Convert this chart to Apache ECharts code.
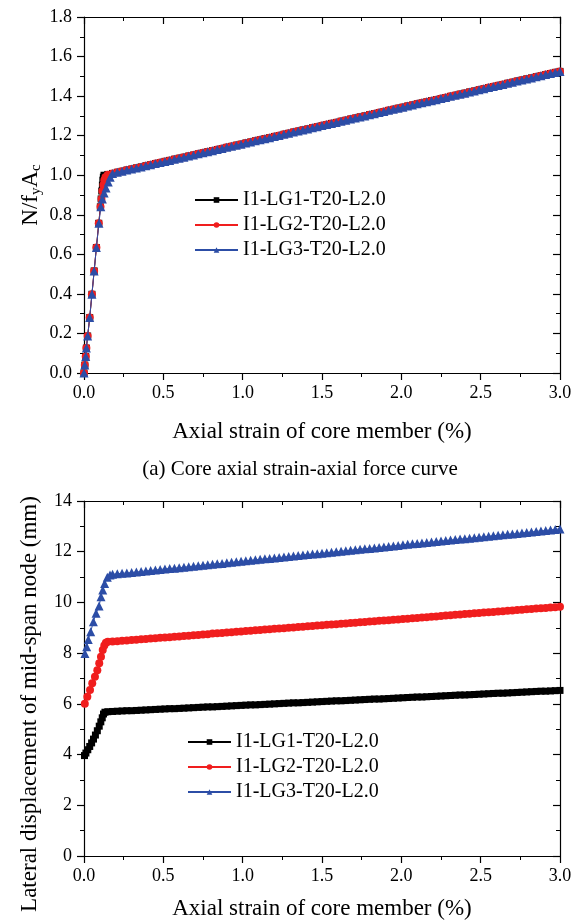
<!DOCTYPE html>
<html>
<head>
<meta charset="utf-8">
<script src="https://cdn.jsdelivr.net/npm/echarts@6/dist/echarts.min.js"></script>
<style>
  html, body { margin: 0; padding: 0; background: #fff; }
  #main { width: 578px; height: 924px; }
</style>
</head>
<body>
<div id="main"></div>
<script>
// Specimen names shared by both panels
const seriesNames = ['I1-LG1-T20-L2.0', 'I1-LG2-T20-L2.0', 'I1-LG3-T20-L2.0'];

// Strain (%) of the recorded post-yield steps, common to every specimen
const strainPost = [
  0.18, 0.21, 0.24, 0.27, 0.30, 0.33, 0.36, 0.39, 0.42, 0.45,
  0.48, 0.51, 0.54, 0.57, 0.60, 0.63, 0.66, 0.69, 0.72, 0.75,
  0.78, 0.81, 0.84, 0.87, 0.90, 0.93, 0.96, 0.99, 1.02, 1.05,
  1.08, 1.11, 1.14, 1.17, 1.20, 1.23, 1.26, 1.29, 1.32, 1.35,
  1.38, 1.41, 1.44, 1.47, 1.50, 1.53, 1.56, 1.59, 1.62, 1.65,
  1.68, 1.71, 1.74, 1.77, 1.80, 1.83, 1.86, 1.89, 1.92, 1.95,
  1.98, 2.01, 2.04, 2.07, 2.10, 2.13, 2.16, 2.19, 2.22, 2.25,
  2.28, 2.31, 2.34, 2.37, 2.40, 2.43, 2.46, 2.49, 2.52, 2.55,
  2.58, 2.61, 2.64, 2.67, 2.70, 2.73, 2.76, 2.79, 2.82, 2.85,
  2.88, 2.91, 2.94, 2.97, 3.00
];

// ---- Panel (a): normalised axial force N/(fy*Ac) ----
const lg1StrainPreA = [0, 0.005, 0.011, 0.015, 0.023, 0.036, 0.050, 0.064, 0.078, 0.093, 0.103, 0.108, 0.112, 0.116, 0.119, 0.122, 0.126, 0.150];
const lg1ForcePreA  = [0, 0.040, 0.083, 0.126, 0.187, 0.280, 0.398, 0.516, 0.634, 0.757, 0.840, 0.880, 0.920, 0.950, 0.975, 0.990, 1.000, 1.004];
const lg2StrainPreA = [0, 0.005, 0.011, 0.015, 0.023, 0.036, 0.050, 0.064, 0.078, 0.093, 0.104, 0.110, 0.116, 0.122, 0.128, 0.135, 0.150];
const lg2ForcePreA  = [0, 0.040, 0.083, 0.126, 0.187, 0.280, 0.398, 0.516, 0.634, 0.757, 0.840, 0.880, 0.920, 0.950, 0.975, 0.990, 1.002];
const lg3StrainPreA = [0, 0.005, 0.011, 0.015, 0.023, 0.036, 0.050, 0.064, 0.078, 0.094, 0.106, 0.116, 0.127, 0.139, 0.153, 0.165];
const lg3ForcePreA  = [0, 0.040, 0.083, 0.126, 0.187, 0.280, 0.398, 0.516, 0.634, 0.757, 0.840, 0.880, 0.910, 0.935, 0.966, 0.990];
// Post-yield force, identical for the three specimens
const forcePostA = [
  1.009, 1.015, 1.020, 1.026, 1.031, 1.037, 1.042, 1.048, 1.053, 1.059,
  1.064, 1.070, 1.075, 1.081, 1.086, 1.091, 1.097, 1.102, 1.108, 1.113,
  1.119, 1.124, 1.130, 1.135, 1.141, 1.146, 1.152, 1.157, 1.163, 1.168,
  1.174, 1.179, 1.185, 1.190, 1.196, 1.201, 1.207, 1.212, 1.218, 1.223,
  1.229, 1.234, 1.240, 1.245, 1.251, 1.256, 1.262, 1.267, 1.273, 1.278,
  1.284, 1.289, 1.295, 1.300, 1.306, 1.311, 1.317, 1.322, 1.328, 1.333,
  1.339, 1.344, 1.350, 1.355, 1.361, 1.366, 1.371, 1.377, 1.382, 1.388,
  1.393, 1.399, 1.404, 1.410, 1.415, 1.421, 1.426, 1.432, 1.437, 1.443,
  1.448, 1.454, 1.459, 1.465, 1.470, 1.476, 1.481, 1.487, 1.492, 1.498,
  1.503, 1.509, 1.514, 1.520, 1.525
];

// ---- Panel (b): lateral displacement of the mid-span node (mm) ----
const lg1StrainPreB = [0.003, 0.012, 0.024, 0.036, 0.048, 0.060, 0.072, 0.084, 0.096, 0.106, 0.115, 0.123, 0.132, 0.150];
const lg1DispPreB   = [3.96, 4.06, 4.19, 4.32, 4.46, 4.61, 4.77, 4.94, 5.12, 5.29, 5.45, 5.60, 5.67, 5.69];
const lg2StrainPreB = [0.005, 0.021, 0.038, 0.052, 0.069, 0.084, 0.096, 0.107, 0.118, 0.128, 0.138, 0.150];
const lg2DispPreB   = [6.00, 6.28, 6.55, 6.81, 7.07, 7.33, 7.60, 7.86, 8.12, 8.30, 8.41, 8.45];
const lg3StrainPreB = [0.006, 0.017, 0.027, 0.042, 0.059, 0.076, 0.095, 0.107, 0.118, 0.130, 0.147, 0.164];
const lg3DispPreB   = [7.99, 8.25, 8.54, 8.84, 9.24, 9.57, 9.86, 10.22, 10.49, 10.75, 10.99, 11.08];

const lg1DispPostB = [
  5.70, 5.71, 5.72, 5.73, 5.73, 5.74, 5.75, 5.76, 5.77, 5.78,
  5.79, 5.80, 5.81, 5.81, 5.82, 5.83, 5.84, 5.85, 5.86, 5.87,
  5.88, 5.88, 5.89, 5.90, 5.91, 5.92, 5.93, 5.94, 5.95, 5.96,
  5.96, 5.97, 5.98, 5.99, 6.00, 6.01, 6.02, 6.03, 6.04, 6.04,
  6.05, 6.06, 6.07, 6.08, 6.09, 6.10, 6.11, 6.12, 6.12, 6.13,
  6.14, 6.15, 6.16, 6.17, 6.18, 6.19, 6.19, 6.20, 6.21, 6.22,
  6.23, 6.24, 6.25, 6.26, 6.27, 6.27, 6.28, 6.29, 6.30, 6.31,
  6.32, 6.33, 6.34, 6.35, 6.35, 6.36, 6.37, 6.38, 6.39, 6.40,
  6.41, 6.42, 6.42, 6.43, 6.44, 6.45, 6.46, 6.47, 6.48, 6.49,
  6.50, 6.50, 6.51, 6.52, 6.53
];
const lg2DispPostB = [
  8.46, 8.47, 8.49, 8.50, 8.52, 8.53, 8.55, 8.56, 8.58, 8.59,
  8.61, 8.62, 8.63, 8.65, 8.66, 8.68, 8.69, 8.71, 8.72, 8.74,
  8.75, 8.77, 8.78, 8.79, 8.81, 8.82, 8.84, 8.85, 8.87, 8.88,
  8.90, 8.91, 8.93, 8.94, 8.96, 8.97, 8.98, 9.00, 9.01, 9.03,
  9.04, 9.06, 9.07, 9.09, 9.10, 9.12, 9.13, 9.14, 9.16, 9.17,
  9.19, 9.20, 9.22, 9.23, 9.25, 9.26, 9.28, 9.29, 9.30, 9.32,
  9.33, 9.35, 9.36, 9.38, 9.39, 9.41, 9.42, 9.44, 9.45, 9.46,
  9.48, 9.49, 9.51, 9.52, 9.54, 9.55, 9.57, 9.58, 9.60, 9.61,
  9.62, 9.64, 9.65, 9.67, 9.68, 9.70, 9.71, 9.73, 9.74, 9.76,
  9.77, 9.78, 9.80, 9.81, 9.83
];
const lg3DispPostB = [
  11.11, 11.13, 11.15, 11.16, 11.18, 11.20, 11.22, 11.24, 11.26, 11.28,
  11.30, 11.32, 11.34, 11.35, 11.37, 11.39, 11.41, 11.43, 11.45, 11.47,
  11.49, 11.51, 11.53, 11.54, 11.56, 11.58, 11.60, 11.62, 11.64, 11.66,
  11.68, 11.70, 11.72, 11.73, 11.75, 11.77, 11.79, 11.81, 11.83, 11.85,
  11.87, 11.89, 11.91, 11.92, 11.94, 11.96, 11.98, 12.00, 12.02, 12.04,
  12.06, 12.08, 12.10, 12.12, 12.13, 12.15, 12.17, 12.19, 12.21, 12.23,
  12.25, 12.27, 12.29, 12.31, 12.32, 12.34, 12.36, 12.38, 12.40, 12.42,
  12.44, 12.46, 12.48, 12.50, 12.51, 12.53, 12.55, 12.57, 12.59, 12.61,
  12.63, 12.65, 12.67, 12.69, 12.70, 12.72, 12.74, 12.76, 12.78, 12.80,
  12.82, 12.84, 12.86, 12.88, 12.90
];

const SERIF = '"Liberation Serif", "Times New Roman", serif';
const colors = ['#000000', '#F01E1E', '#2C4DA6'];
const symbols = ['rect', 'circle', 'triangle'];
const symbolSizes = [7, 8, 9];

function pairs(xs, ys) {
  return xs.map((x, i) => [x, ys[i]]);
}

function curve(k, axisIdx, pre, post) {
  return {
    name: seriesNames[k],
    type: 'line',
    xAxisIndex: axisIdx,
    yAxisIndex: axisIdx,
    data: pre.concat(post),
    symbol: symbols[k],
    symbolSize: symbolSizes[k],
    showSymbol: true,
    color: colors[k],
    lineStyle: { color: colors[k], width: 1 },
    itemStyle: { color: colors[k] },
    z: 2 + k
  };
}

const axisLineStyle = { color: '#000', width: 1.2 };
const minorTickStyle = { color: '#000', width: 1 };

function xAxes(gridIndex, nameGap) {
  return [
    {
      gridIndex, type: 'value', position: 'bottom', min: 0, max: 3, interval: 0.5,
      axisLine: { show: true, onZero: false, lineStyle: axisLineStyle },
      axisTick: { show: true, inside: false, length: 7, lineStyle: axisLineStyle },
      minorTick: { show: true, splitNumber: 2, length: 4, lineStyle: minorTickStyle },
      splitLine: { show: false },
      axisLabel: { color: '#000', fontFamily: SERIF, fontSize: 18, margin: 11, formatter: v => v.toFixed(1) },
      name: 'Axial strain of core member (%)',
      nameLocation: 'middle', nameGap,
      nameTextStyle: { color: '#000', fontFamily: SERIF, fontSize: 23 }
    },
    {
      gridIndex, type: 'value', position: 'top', min: 0, max: 3, interval: 0.5,
      axisLine: { show: true, onZero: false, lineStyle: axisLineStyle },
      axisTick: { show: true, inside: true, length: 7, lineStyle: axisLineStyle },
      minorTick: { show: true, splitNumber: 2, length: 4, lineStyle: minorTickStyle },
      splitLine: { show: false },
      axisLabel: { show: false }
    }
  ];
}

function yAxes(gridIndex, max, interval, digits) {
  return [
    {
      gridIndex, type: 'value', position: 'left', min: 0, max, interval,
      axisLine: { show: true, onZero: false, lineStyle: axisLineStyle },
      axisTick: { show: true, inside: false, length: 7, lineStyle: axisLineStyle },
      minorTick: { show: true, splitNumber: 2, length: 4, lineStyle: minorTickStyle },
      splitLine: { show: false },
      axisLabel: { color: '#000', fontFamily: SERIF, fontSize: 18, margin: 12, formatter: v => v.toFixed(digits) }
    },
    {
      gridIndex, type: 'value', position: 'right', min: 0, max, interval,
      axisLine: { show: true, onZero: false, lineStyle: axisLineStyle },
      axisTick: { show: true, inside: true, length: 7, lineStyle: axisLineStyle },
      minorTick: { show: true, splitNumber: 2, length: 4, lineStyle: minorTickStyle },
      splitLine: { show: false },
      axisLabel: { show: false }
    }
  ];
}

function legendAt(left, top) {
  return {
    left, top, orient: 'vertical', padding: 0,
    itemWidth: 43, itemHeight: 7, itemGap: 5,
    selectedMode: false,
    textStyle: { color: '#000', fontFamily: SERIF, fontSize: 20, lineHeight: 20 },
    data: seriesNames
  };
}

const chart = echarts.init(document.getElementById('main'), null, { renderer: 'canvas' });

chart.setOption({
  animation: false,
  backgroundColor: '#fff',
  grid: [
    { left: 84, top: 17, width: 476, height: 356 },
    { left: 84, top: 501, width: 476, height: 355 }
  ],
  xAxis: [...xAxes(0, 47), ...xAxes(1, 41)],
  yAxis: [...yAxes(0, 1.8, 0.2, 1), ...yAxes(1, 14, 2, 0)],
  legend: [legendAt(194, 190), legendAt(187, 732)],
  graphic: [
    {
      type: 'text', x: 31, y: 195, rotation: Math.PI / 2,
      style: {
        text: '{m|N/f}{s|y}{m|A}{s|c}',
        align: 'center', verticalAlign: 'middle', fill: '#000',
        rich: {
          m: { fontFamily: SERIF, fontSize: 23, lineHeight: 26, fill: '#000' },
          s: { fontFamily: SERIF, fontSize: 15, lineHeight: 10, verticalAlign: 'bottom', fill: '#000' }
        }
      }
    },
    {
      type: 'text', x: 30, y: 704, rotation: Math.PI / 2,
      style: {
        text: 'Lateral displacement of mid-span node (mm)',
        fontFamily: SERIF, fontSize: 23, fill: '#000',
        align: 'center', verticalAlign: 'middle'
      }
    },
    {
      type: 'text', x: 300, y: 469,
      style: {
        text: '(a) Core axial strain-axial force curve',
        fontFamily: SERIF, fontSize: 21, fill: '#000',
        align: 'center', verticalAlign: 'middle'
      }
    }
  ],
  series: [
    curve(0, 0, pairs(lg1StrainPreA, lg1ForcePreA), pairs(strainPost, forcePostA)),
    curve(1, 0, pairs(lg2StrainPreA, lg2ForcePreA), pairs(strainPost, forcePostA)),
    curve(2, 0, pairs(lg3StrainPreA, lg3ForcePreA), pairs(strainPost, forcePostA)),
    curve(0, 2, pairs(lg1StrainPreB, lg1DispPreB), pairs(strainPost, lg1DispPostB)),
    curve(1, 2, pairs(lg2StrainPreB, lg2DispPreB), pairs(strainPost, lg2DispPostB)),
    curve(2, 2, pairs(lg3StrainPreB, lg3DispPreB), pairs(strainPost, lg3DispPostB))
  ]
});
</script>
</body>
</html>
